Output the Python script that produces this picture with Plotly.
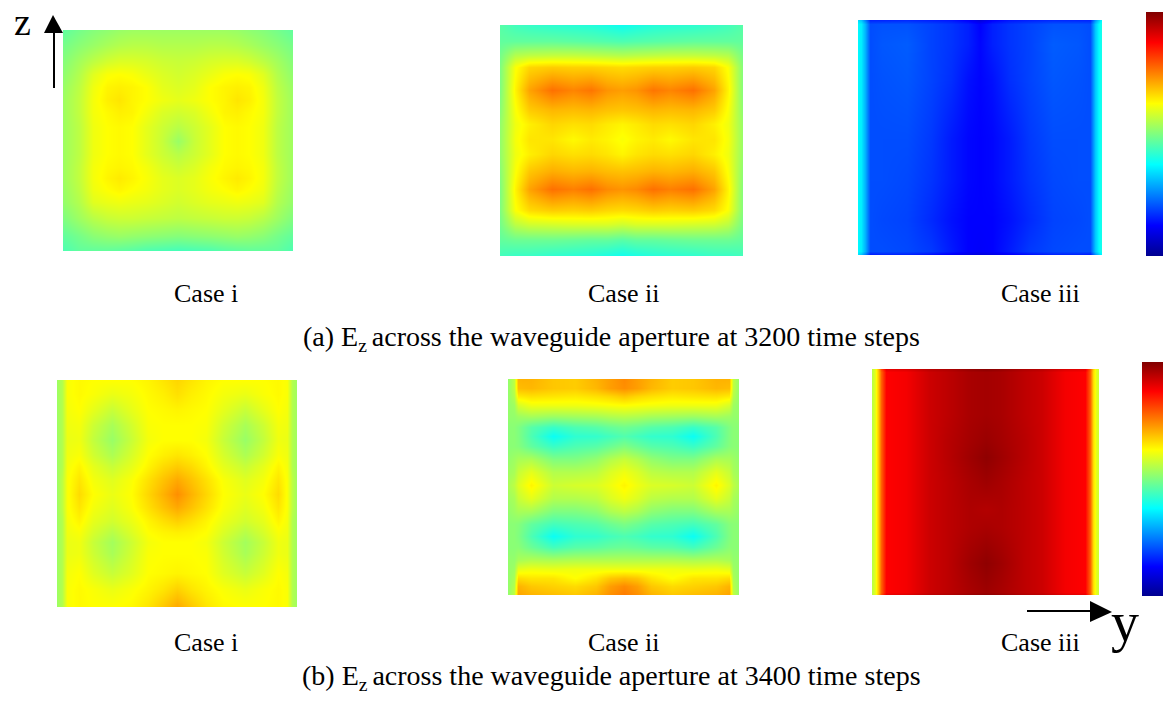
import plotly.graph_objects as go

W, H = 1163, 717

JET = [[0.0, "rgb(0,0,143)"], [0.125, "rgb(0,0,255)"], [0.375, "rgb(0,255,255)"],
       [0.625, "rgb(255,255,0)"], [0.875, "rgb(255,0,0)"], [1.0, "rgb(128,0,0)"]]

a1_y = [0, .07, .13, .19, .245, .30, .36, .43, .5, .57, .64, .70, .755, .81, .87, .93, 1]
a1_z = [0, .07, .14, .2, .26, .317, .37, .44, .5, .56, .62, .67, .72, .78, .85, .93, 1]
a1_v = [
    [.47, .49, .505, .515, .525, .53, .53, .53, .53, .53, .53, .53, .525, .515, .505, .49, .47],
    [.49, .51, .525, .54, .55, .555, .555, .55, .55, .55, .555, .555, .55, .54, .525, .51, .49],
    [.505, .535, .56, .58, .59, .59, .585, .575, .57, .575, .585, .59, .59, .58, .56, .535, .505],
    [.515, .55, .595, .62, .625, .62, .605, .59, .58, .59, .605, .62, .625, .62, .595, .55, .515],
    [.525, .56, .61, .635, .64, .635, .625, .60, .59, .60, .625, .635, .64, .635, .61, .56, .525],
    [.53, .565, .615, .64, .65, .635, .625, .61, .60, .61, .625, .635, .65, .64, .615, .565, .53],
    [.53, .565, .615, .63, .64, .635, .615, .59, .58, .59, .615, .635, .64, .63, .615, .565, .53],
    [.53, .56, .61, .625, .63, .625, .60, .575, .555, .575, .60, .625, .63, .625, .61, .56, .53],
    [.53, .56, .61, .625, .63, .625, .60, .57, .525, .57, .60, .625, .63, .625, .61, .56, .53],
    [.53, .56, .61, .625, .63, .625, .60, .575, .555, .575, .60, .625, .63, .625, .61, .56, .53],
    [.53, .565, .615, .63, .635, .63, .615, .59, .575, .59, .615, .63, .635, .63, .615, .565, .53],
    [.53, .565, .615, .635, .645, .635, .62, .60, .59, .60, .62, .635, .645, .635, .615, .565, .53],
    [.525, .56, .61, .625, .635, .625, .615, .60, .59, .60, .615, .625, .635, .625, .61, .56, .525],
    [.52, .55, .595, .605, .61, .605, .60, .59, .58, .59, .60, .605, .61, .605, .595, .55, .52],
    [.5, .53, .555, .57, .575, .575, .57, .565, .56, .565, .57, .575, .575, .57, .555, .53, .5],
    [.47, .49, .51, .52, .525, .52, .515, .51, .505, .51, .515, .52, .525, .52, .51, .49, .47],
    [.45, .47, .47, .47, .465, .46, .45, .445, .44, .445, .45, .46, .465, .47, .47, .47, .45],
]

a2_y = [0, .06, .12, .216, .3, .374, .44, .5, .56, .629, .7, .794, .88, .94, 1]
a2_z = [0, .07, .13, .18, .283, .37, .43, .493, .56, .63, .71, .8, .86, .93, 1]
a2_v = [
    [.46, .44, .43, .42, .415, .41, .40, .39, .40, .41, .415, .42, .43, .44, .46],
    [.47, .47, .47, .47, .465, .46, .455, .45, .455, .46, .465, .47, .47, .47, .47],
    [.49, .55, .56, .565, .565, .56, .555, .55, .555, .56, .565, .565, .56, .55, .49],
    [.5, .62, .665, .675, .67, .67, .665, .66, .665, .67, .67, .675, .665, .62, .5],
    [.5, .635, .715, .765, .745, .76, .73, .72, .73, .76, .745, .765, .715, .635, .5],
    [.51, .62, .675, .695, .69, .695, .685, .68, .685, .695, .69, .695, .675, .62, .51],
    [.52, .61, .64, .665, .655, .66, .645, .635, .645, .66, .655, .665, .64, .61, .52],
    [.52, .615, .65, .65, .63, .645, .635, .62, .635, .645, .63, .65, .65, .615, .52],
    [.52, .61, .64, .665, .655, .66, .65, .635, .65, .66, .655, .665, .64, .61, .52],
    [.51, .62, .68, .705, .695, .70, .69, .685, .69, .70, .695, .705, .68, .62, .51],
    [.5, .635, .715, .765, .75, .765, .74, .73, .74, .765, .75, .765, .715, .635, .5],
    [.5, .62, .66, .675, .67, .675, .665, .66, .665, .675, .67, .675, .66, .62, .5],
    [.49, .56, .58, .585, .59, .59, .59, .58, .59, .59, .59, .585, .58, .56, .49],
    [.47, .48, .48, .48, .475, .47, .47, .46, .47, .47, .475, .48, .48, .48, .47],
    [.44, .43, .43, .42, .415, .41, .40, .39, .40, .41, .415, .42, .43, .43, .44],
]

a3_y = [0, .012, .03, .05, .1, .2, .3, .38, .45, .5, .55, .62, .7, .8, .9, .95, .97, .988, 1]
a3_z = [0, .015, .1, .25, .5, .68, .85, .985, 1]
a3_v = [
    [.34, .32, .25, .16, .16, .165, .155, .145, .12, .085, .12, .145, .155, .165, .16, .16, .27, .34, .38],
    [.37, .36, .30, .20, .205, .205, .19, .175, .155, .125, .155, .175, .19, .205, .205, .20, .32, .38, .40],
    [.37, .36, .30, .20, .21, .215, .19, .175, .155, .13, .155, .175, .19, .215, .21, .20, .32, .38, .40],
    [.37, .36, .30, .20, .205, .21, .19, .17, .14, .128, .14, .17, .19, .21, .205, .20, .32, .38, .40],
    [.37, .36, .30, .20, .2, .2, .18, .15, .13, .125, .13, .15, .18, .2, .2, .20, .32, .38, .40],
    [.37, .36, .30, .20, .2, .195, .175, .15, .13, .125, .13, .15, .175, .195, .2, .20, .32, .38, .40],
    [.37, .36, .30, .20, .195, .19, .165, .14, .125, .125, .125, .14, .165, .19, .195, .20, .32, .38, .40],
    [.37, .36, .30, .20, .2, .195, .18, .15, .125, .12, .125, .15, .18, .195, .2, .20, .32, .38, .40],
    [.34, .31, .24, .14, .15, .15, .13, .11, .09, .08, .09, .11, .13, .15, .15, .14, .26, .33, .37],
]

b1_y = [0, .02, .04, .09, .15, .229, .31, .38, .44, .5, .56, .62, .69, .783, .86, .92, .96, .98, 1]
b1_z = [0, .06, .13, .2, .265, .33, .38, .44, .5, .56, .62, .67, .713, .76, .85, .92, 1]
b1_v = [
    [.53, .55, .62, .63, .625, .625, .625, .635, .65, .665, .65, .635, .625, .625, .625, .63, .62, .55, .53],
    [.53, .55, .62, .63, .62, .605, .615, .63, .64, .655, .64, .63, .615, .605, .62, .63, .62, .55, .53],
    [.53, .55, .615, .625, .60, .57, .60, .625, .63, .635, .63, .625, .60, .57, .60, .625, .615, .55, .53],
    [.53, .55, .61, .615, .575, .54, .58, .62, .625, .625, .625, .62, .58, .54, .575, .615, .61, .55, .53],
    [.53, .55, .605, .61, .565, .525, .57, .615, .625, .625, .625, .615, .57, .525, .565, .61, .605, .55, .53],
    [.53, .55, .61, .62, .58, .545, .585, .625, .64, .65, .64, .625, .585, .545, .58, .62, .61, .55, .53],
    [.53, .55, .615, .635, .60, .57, .60, .635, .66, .675, .66, .635, .60, .57, .60, .635, .615, .55, .53],
    [.53, .56, .62, .65, .615, .595, .62, .655, .685, .71, .685, .655, .62, .595, .615, .65, .62, .56, .53],
    [.53, .56, .62, .66, .625, .605, .625, .665, .70, .735, .70, .665, .625, .605, .625, .66, .62, .56, .53],
    [.53, .56, .62, .65, .615, .595, .62, .655, .685, .71, .685, .655, .62, .595, .615, .65, .62, .56, .53],
    [.53, .55, .615, .635, .60, .58, .605, .635, .655, .67, .655, .635, .605, .58, .60, .635, .615, .55, .53],
    [.53, .55, .61, .62, .585, .555, .59, .625, .635, .64, .635, .625, .59, .555, .585, .62, .61, .55, .53],
    [.53, .55, .605, .61, .57, .535, .575, .615, .625, .625, .625, .615, .575, .535, .57, .61, .605, .55, .53],
    [.53, .55, .605, .61, .575, .54, .58, .62, .625, .625, .625, .62, .58, .54, .575, .61, .605, .55, .53],
    [.53, .55, .615, .625, .595, .57, .595, .625, .63, .635, .63, .625, .595, .57, .595, .625, .615, .55, .53],
    [.53, .55, .62, .63, .62, .605, .62, .635, .65, .67, .65, .635, .62, .605, .62, .63, .62, .55, .53],
    [.53, .55, .62, .63, .625, .625, .63, .65, .68, .71, .68, .65, .63, .625, .625, .63, .62, .55, .53],
]

b2_y = [0, .025, .045, .1, .195, .29, .38, .44, .5, .56, .62, .71, .8, .9, .955, .975, 1]
b2_z = [0, .04, .08, .12, .17, .22, .264, .31, .37, .43, .49, .55, .61, .67, .729, .78, .84, .88, .92, .96, 1]
b2_v = [
    [.52, .56, .70, .70, .68, .675, .70, .72, .74, .72, .70, .675, .68, .70, .70, .56, .52],
    [.52, .56, .69, .695, .68, .675, .695, .72, .735, .72, .695, .675, .68, .695, .69, .56, .52],
    [.52, .55, .645, .655, .65, .645, .655, .665, .68, .665, .655, .645, .65, .655, .645, .55, .52],
    [.52, .53, .585, .61, .61, .61, .615, .62, .625, .62, .615, .61, .61, .61, .585, .53, .52],
    [.52, .52, .53, .54, .53, .535, .54, .55, .555, .55, .54, .535, .53, .54, .53, .52, .52],
    [.51, .51, .50, .46, .43, .45, .46, .475, .485, .475, .46, .45, .43, .46, .50, .51, .51],
    [.51, .51, .50, .45, .385, .42, .425, .44, .455, .44, .425, .42, .385, .45, .50, .51, .51],
    [.51, .51, .505, .47, .43, .45, .46, .48, .50, .48, .46, .45, .43, .47, .505, .51, .51],
    [.52, .53, .54, .545, .50, .50, .52, .55, .57, .55, .52, .50, .50, .545, .54, .53, .52],
    [.53, .54, .57, .60, .55, .55, .56, .59, .61, .59, .56, .55, .55, .60, .57, .54, .53],
    [.54, .56, .59, .635, .575, .585, .59, .61, .635, .61, .59, .585, .575, .635, .59, .56, .54],
    [.53, .54, .57, .60, .55, .55, .56, .59, .61, .59, .56, .55, .55, .60, .57, .54, .53],
    [.52, .53, .54, .54, .50, .50, .515, .545, .56, .545, .515, .50, .50, .54, .54, .53, .52],
    [.51, .51, .505, .47, .44, .45, .46, .48, .495, .48, .46, .45, .44, .47, .505, .51, .51],
    [.51, .51, .50, .45, .385, .42, .425, .44, .45, .44, .425, .42, .385, .45, .50, .51, .51],
    [.51, .51, .51, .48, .44, .46, .465, .475, .48, .475, .465, .46, .44, .48, .51, .51, .51],
    [.52, .52, .54, .55, .545, .55, .55, .55, .55, .55, .55, .55, .545, .55, .54, .52, .52],
    [.52, .53, .60, .61, .605, .61, .61, .61, .61, .61, .61, .61, .605, .61, .60, .53, .52],
    [.52, .54, .66, .65, .65, .625, .65, .68, .69, .68, .65, .625, .65, .65, .66, .54, .52],
    [.52, .55, .70, .68, .67, .66, .68, .72, .74, .72, .68, .66, .67, .68, .70, .55, .52],
    [.52, .56, .715, .70, .69, .68, .70, .735, .755, .735, .70, .68, .69, .70, .715, .56, .52],
]

b3_y = [0, .012, .025, .04, .06, .15, .25, .33, .43, .5, .57, .67, .75, .85, .94, .96, .975, .988, 1]
b3_z = [0, .015, .2, .32, .39, .5, .62, .7, .86, .985, 1]
b3_v = [
    [.56, .6, .69, .8, .9, .91, .945, .955, .98, .99, .98, .955, .945, .91, .9, .79, .67, .6, .57],
    [.56, .6, .68, .78, .875, .885, .925, .94, .96, .965, .96, .94, .925, .885, .875, .78, .66, .6, .57],
    [.56, .6, .68, .78, .875, .885, .925, .94, .96, .965, .96, .94, .925, .885, .875, .78, .66, .6, .57],
    [.56, .6, .68, .78, .875, .885, .925, .945, .965, .975, .965, .945, .925, .885, .875, .78, .66, .6, .57],
    [.56, .6, .68, .78, .875, .885, .925, .945, .97, .985, .97, .945, .925, .885, .875, .78, .66, .6, .57],
    [.56, .6, .68, .78, .875, .885, .925, .94, .96, .97, .96, .94, .925, .885, .875, .78, .66, .6, .57],
    [.56, .6, .68, .78, .875, .885, .925, .94, .955, .95, .955, .94, .925, .885, .875, .78, .66, .6, .57],
    [.56, .6, .68, .78, .875, .885, .925, .94, .955, .96, .955, .94, .925, .885, .875, .78, .66, .6, .57],
    [.56, .6, .68, .78, .875, .885, .925, .94, .97, .985, .97, .94, .925, .885, .875, .78, .66, .6, .57],
    [.56, .6, .68, .78, .875, .885, .925, .94, .96, .97, .96, .94, .925, .885, .875, .78, .66, .6, .57],
    [.56, .6, .69, .8, .9, .91, .945, .955, .98, .99, .98, .955, .945, .91, .9, .79, .67, .6, .57],
]

case_labels = ["Case i", "Case ii", "Case iii"]
caption_a = "(a) E<sub>z </sub>across the waveguide aperture at 3200 time steps"
caption_b = "(b) E<sub>z </sub>across the waveguide aperture at 3400 time steps"

# ---- layout, in page pixels ----
panels = [
    (a1_y, a1_z, a1_v, (63, 293, 30, 251), "coloraxis"),
    (a2_y, a2_z, a2_v, (500, 743, 25, 256), "coloraxis"),
    (a3_y, a3_z, a3_v, (858, 1102, 20, 255), "coloraxis"),
    (b1_y, b1_z, b1_v, (57, 297, 380, 607), "coloraxis2"),
    (b2_y, b2_z, b2_v, (508, 739, 379, 595), "coloraxis2"),
    (b3_y, b3_z, b3_v, (872, 1099, 369, 595), "coloraxis2"),
]


def fx(p):
    return p / W


def fy(p):
    return 1 - p / H


fig = go.Figure()
layout = {}
for i, (ys, zs, vals, (l, r, t, b), cax_name) in enumerate(panels, start=1):
    sfx = "" if i == 1 else str(i)
    fig.add_trace(go.Heatmap(x=ys, y=zs, z=vals, zsmooth="best", coloraxis=cax_name,
                             xaxis="x" + sfx, yaxis="y" + sfx, hoverinfo="skip"))
    layout["xaxis" + sfx] = dict(domain=[fx(l), fx(r)], range=[0, 1], visible=False, fixedrange=True,
                                 anchor="y" + sfx)
    layout["yaxis" + sfx] = dict(domain=[fy(b), fy(t)], range=[1, 0], visible=False, fixedrange=True,
                                 anchor="x" + sfx)


def cax(top, bottom, left, width):
    return dict(colorscale=JET, cmin=0, cmax=1,
                colorbar=dict(x=fx(left), xanchor="left", xpad=0, ypad=0,
                              y=fy(top), yanchor="top", len=(bottom - top), lenmode="pixels",
                              thickness=width, thicknessmode="pixels", outlinewidth=0,
                              ticks="", showticklabels=False))


layout["coloraxis"] = cax(12, 256, 1146, 17)
layout["coloraxis2"] = cax(362, 596, 1142, 21)

serif = "Liberation Serif"
annots = []


def text(s, x, y, size):
    annots.append(dict(text=s, x=fx(x), y=fy(y), xref="paper", yref="paper", showarrow=False,
                       xanchor="center", yanchor="middle",
                       font=dict(family=serif, size=size, color="black")))


for label, cx in zip(case_labels, (206, 624, 1040)):
    text(label, cx, 293, 26)
    text(label, cx, 642, 26)
text(caption_a, 611, 338, 28)
text(caption_b, 611, 677, 28)
text("z", 22, 22, 38)
text("y", 1125, 622, 56)

shapes = []
for x0, y0, x1, y1 in [(54, 88, 54, 30), (1027, 611, 1092, 611)]:
    shapes.append(dict(type="line", xref="paper", yref="paper",
                       x0=fx(x0), y0=fy(y0), x1=fx(x1), y1=fy(y1),
                       line=dict(color="black", width=2)))
for pts in [[(53, 15), (44, 33), (63, 33)], [(1112, 612), (1090, 601), (1090, 622)]]:
    path = "M " + " L ".join(f"{fx(a):.5f} {fy(c):.5f}" for a, c in pts) + " Z"
    shapes.append(dict(type="path", xref="paper", yref="paper", path=path,
                       fillcolor="black", line=dict(width=0)))

fig.update_layout(width=W, height=H, autosize=False, paper_bgcolor="white", plot_bgcolor="white",
                  margin=dict(l=0, r=0, t=0, b=0, pad=0, autoexpand=False),
                  annotations=annots, shapes=shapes, showlegend=False, **layout)

fig.write_html("out.html", config={"displayModeBar": False},
               post_script="document.body.style.margin='0';document.body.style.overflow='hidden';")
